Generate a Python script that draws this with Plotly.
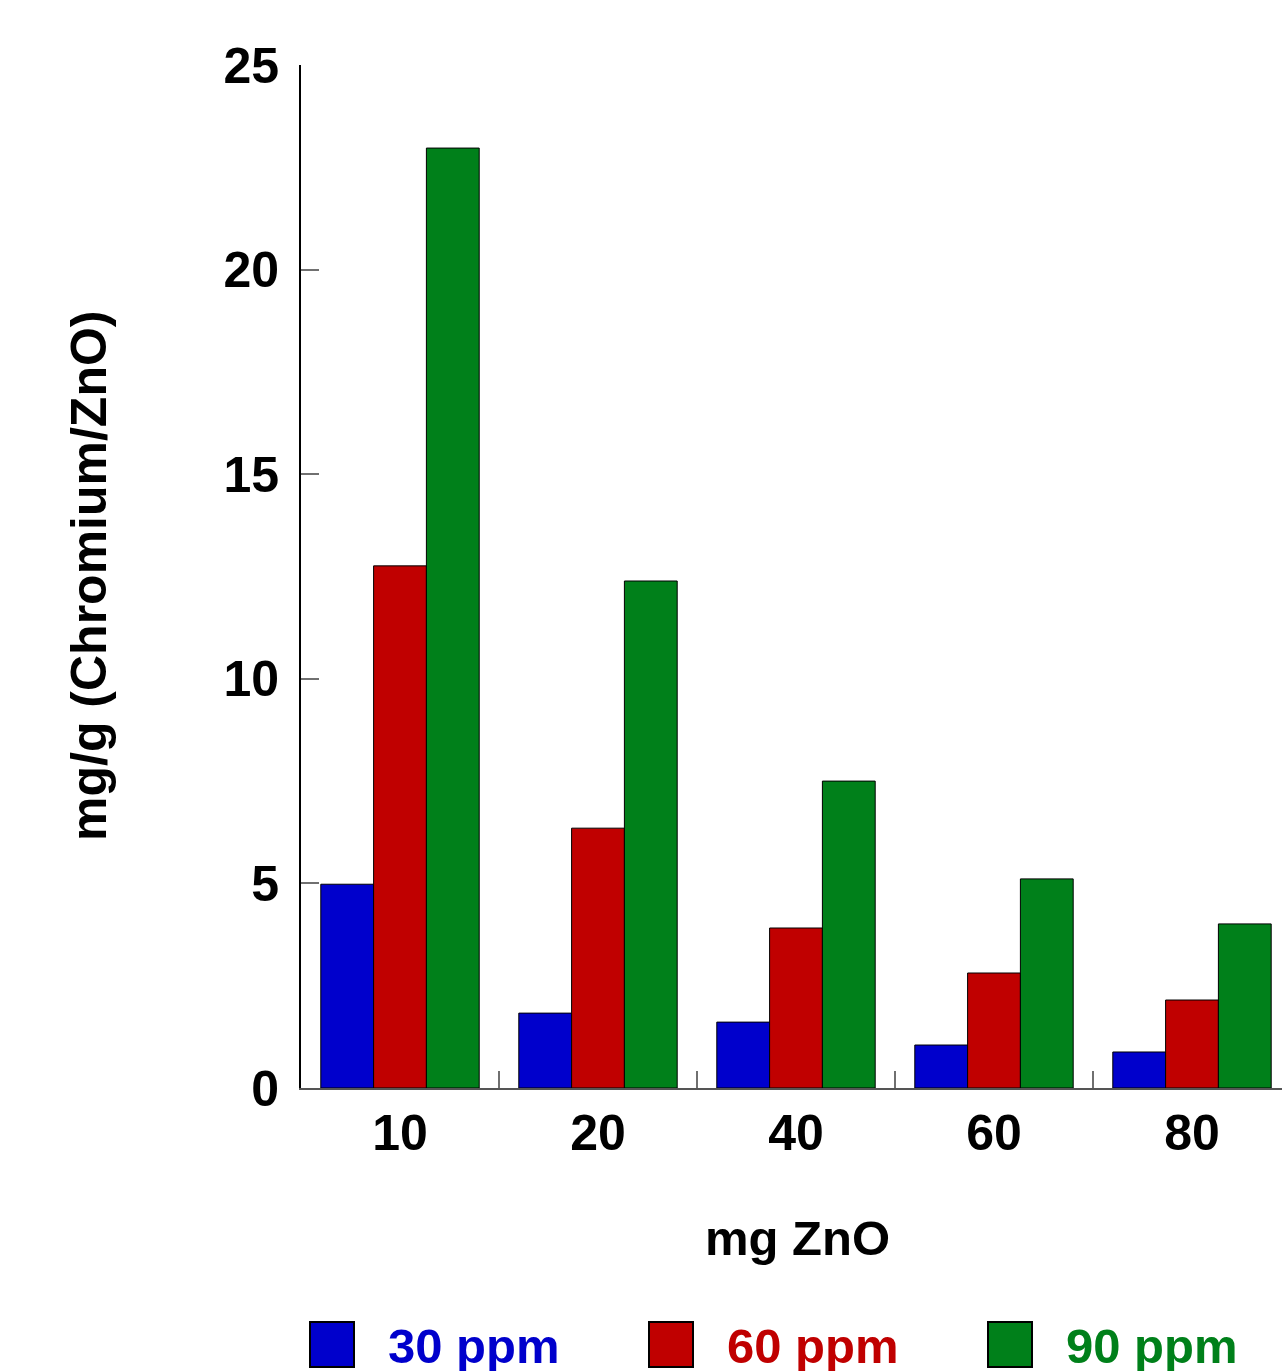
import plotly.graph_objects as go

categories = ["10", "20", "40", "60", "80"]
series_names = ["30 ppm", "60 ppm", "90 ppm"]
values_30 = [4.98, 1.83, 1.61, 1.05, 0.88]
values_60 = [12.76, 6.35, 3.91, 2.81, 2.15]
values_90 = [22.97, 12.39, 7.50, 5.11, 4.01]
colors = ["#0000CC", "#C00000", "#00801A"]
y_ticks = [0, 5, 10, 15, 20, 25]

W, H = 1282, 1371
L, R, T, B = 301, 0, 65, 283
FONT = "Liberation Sans, Arial, sans-serif"

fig = go.Figure()
for name, vals, col in zip(series_names, [values_30, values_60, values_90], colors):
    fig.add_trace(go.Bar(
        x=categories, y=vals, name=name,
        marker=dict(color=col, line=dict(color="black", width=1)),
        showlegend=False,
    ))

pw = W - L - R
ph = H - T - B

def px2paper(x, y):
    return (x - L) / pw, (H - B - y) / ph

# manual legend (large squares and coloured text)
for i, (name, col) in enumerate(zip(series_names, colors)):
    x0 = 310 + i * 339
    ax0, ay0 = px2paper(x0, 1367)
    ax1, ay1 = px2paper(x0 + 44, 1322)
    fig.add_shape(type="rect", xref="paper", yref="paper",
                  x0=ax0, x1=ax1, y0=ay0, y1=ay1,
                  fillcolor=col, line=dict(color="black", width=2))
    tx, ty = px2paper(x0 + 76, 1346)
    fig.add_annotation(xref="paper", yref="paper", x=tx, y=ty,
                       text="<b>%s</b>" % name, showarrow=False,
                       xanchor="left", yanchor="middle",
                       font=dict(family=FONT, size=49, color=col))

# x axis title
tx, ty = px2paper(797, 1238)
fig.add_annotation(xref="paper", yref="paper", x=tx, y=ty,
                   text="<b>mg ZnO</b>", showarrow=False,
                   xanchor="center", yanchor="middle",
                   font=dict(family=FONT, size=49, color="black"))
# y axis title
tx, ty = px2paper(89, 576)
fig.add_annotation(xref="paper", yref="paper", x=tx, y=ty,
                   text="<b>mg/g (Chromium/ZnO)</b>", showarrow=False,
                   textangle=-90, xanchor="center", yanchor="middle",
                   font=dict(family=FONT, size=50, color="black"))

fig.update_layout(
    width=W, height=H,
    margin=dict(l=L, r=R, t=T, b=B, pad=0),
    paper_bgcolor="white", plot_bgcolor="white",
    barmode="group", bargap=0.2, bargroupgap=0,
    font=dict(family=FONT, size=50, color="black"),
    xaxis=dict(
        type="category", range=[-0.5, -0.5 + pw / 198.0],
        showgrid=False, zeroline=False,
        showline=True, linecolor="#555555", linewidth=2,
        ticks="inside", tickson="boundaries", ticklen=17,
        tickcolor="#707070", tickwidth=2,
        tickfont=dict(family=FONT, size=50, color="black", weight="bold"),
        ticklabelstandoff=0,
    ),
    yaxis=dict(
        range=[0, 25], tickvals=y_ticks,
        showgrid=False, zeroline=False,
        showline=True, linecolor="black", linewidth=2,
        ticks="inside", ticklen=18, tickcolor="#707070", tickwidth=2,
        tickfont=dict(family=FONT, size=50, color="black", weight="bold"),
        ticklabelstandoff=10,
    ),
)

fig.write_html("out.html")
